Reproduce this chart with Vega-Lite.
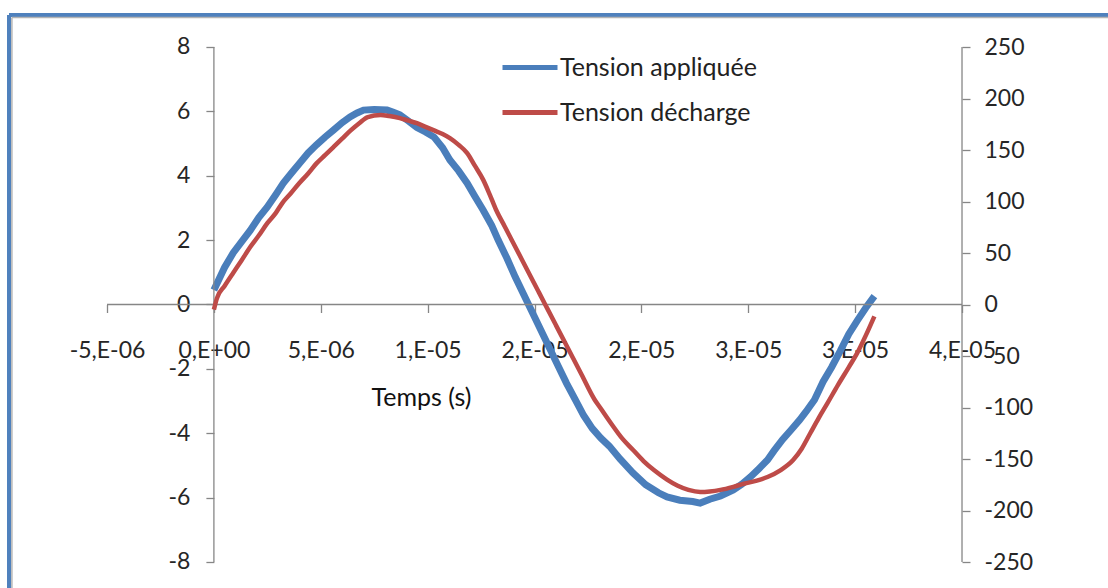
{
  "$schema": "https://vega.github.io/schema/vega-lite/v6.json",
  "width": 1099,
  "height": 573,
  "autosize": {"type": "none"},
  "padding": {"left": 9, "top": 15, "right": 0, "bottom": 0},
  "background": "white",
  "config": {
    "view": {"stroke": null},
    "font": "Lato",
    "axis": {"labelFont": "Lato", "titleFont": "Lato", "labelColor": "#262626", "tickColor": "#868686", "tickWidth": 1.3, "grid": false, "domain": false}
  },
  "datasets": {
    "applied": [
      {"t": 0.0e-6, "u": 0.45}, {"t": 0.5e-6, "u": 1.15}, {"t": 0.9e-6, "u": 1.6}, {"t": 1.3e-6, "u": 1.95},
      {"t": 1.7e-6, "u": 2.3}, {"t": 2.1e-6, "u": 2.7}, {"t": 2.5e-6, "u": 3.03}, {"t": 2.9e-6, "u": 3.42},
      {"t": 3.25e-6, "u": 3.77}, {"t": 3.65e-6, "u": 4.1}, {"t": 4.03e-6, "u": 4.4}, {"t": 4.4e-6, "u": 4.7},
      {"t": 4.8e-6, "u": 4.96}, {"t": 5.2e-6, "u": 5.2}, {"t": 5.6e-6, "u": 5.42}, {"t": 6.0e-6, "u": 5.65},
      {"t": 6.37e-6, "u": 5.83}, {"t": 6.7e-6, "u": 5.95}, {"t": 7.0e-6, "u": 6.04}, {"t": 7.5e-6, "u": 6.06},
      {"t": 8.1e-6, "u": 6.04}, {"t": 8.4e-6, "u": 5.97}, {"t": 8.7e-6, "u": 5.89}, {"t": 9.1e-6, "u": 5.7},
      {"t": 9.5e-6, "u": 5.5}, {"t": 9.9e-6, "u": 5.36}, {"t": 10.3e-6, "u": 5.2}, {"t": 10.7e-6, "u": 4.87},
      {"t": 11.04e-6, "u": 4.49}, {"t": 11.45e-6, "u": 4.15}, {"t": 11.85e-6, "u": 3.77}, {"t": 12.2e-6, "u": 3.37},
      {"t": 12.6e-6, "u": 2.93}, {"t": 13.0e-6, "u": 2.45}, {"t": 13.3e-6, "u": 2.0}, {"t": 13.7e-6, "u": 1.45},
      {"t": 14.1e-6, "u": 0.85}, {"t": 14.5e-6, "u": 0.3}, {"t": 14.9e-6, "u": -0.25}, {"t": 15.3e-6, "u": -0.8},
      {"t": 15.7e-6, "u": -1.35}, {"t": 16.1e-6, "u": -1.9}, {"t": 16.5e-6, "u": -2.45}, {"t": 16.9e-6, "u": -2.95},
      {"t": 17.3e-6, "u": -3.45}, {"t": 17.7e-6, "u": -3.85}, {"t": 18.1e-6, "u": -4.15}, {"t": 18.5e-6, "u": -4.4},
      {"t": 19.0e-6, "u": -4.8}, {"t": 19.6e-6, "u": -5.23}, {"t": 20.2e-6, "u": -5.6}, {"t": 20.8e-6, "u": -5.85},
      {"t": 21.2e-6, "u": -5.98}, {"t": 21.8e-6, "u": -6.08}, {"t": 22.4e-6, "u": -6.12}, {"t": 22.75e-6, "u": -6.17},
      {"t": 23.2e-6, "u": -6.05}, {"t": 23.7e-6, "u": -5.95}, {"t": 24.3e-6, "u": -5.76}, {"t": 24.7e-6, "u": -5.58},
      {"t": 25.1e-6, "u": -5.36}, {"t": 25.5e-6, "u": -5.1}, {"t": 25.9e-6, "u": -4.83}, {"t": 26.2e-6, "u": -4.55},
      {"t": 26.6e-6, "u": -4.2}, {"t": 27.0e-6, "u": -3.9}, {"t": 27.4e-6, "u": -3.59}, {"t": 27.7e-6, "u": -3.33},
      {"t": 28.1e-6, "u": -2.96}, {"t": 28.5e-6, "u": -2.4}, {"t": 28.9e-6, "u": -1.95}, {"t": 29.3e-6, "u": -1.45},
      {"t": 29.7e-6, "u": -0.92}, {"t": 30.1e-6, "u": -0.5}, {"t": 30.5e-6, "u": -0.1}, {"t": 30.9e-6, "u": 0.26}
    ],
    "discharge": [
      {"t": 0.0e-6, "u": -5}, {"t": 0.14e-6, "u": 6}, {"t": 0.5e-6, "u": 18}, {"t": 0.9e-6, "u": 30.6},
      {"t": 1.3e-6, "u": 43}, {"t": 1.7e-6, "u": 55.8}, {"t": 2.1e-6, "u": 67}, {"t": 2.5e-6, "u": 79},
      {"t": 2.9e-6, "u": 89}, {"t": 3.2e-6, "u": 98.5}, {"t": 3.6e-6, "u": 108}, {"t": 4.0e-6, "u": 118},
      {"t": 4.4e-6, "u": 127}, {"t": 4.8e-6, "u": 137}, {"t": 5.2e-6, "u": 145}, {"t": 5.6e-6, "u": 153},
      {"t": 6.0e-6, "u": 161}, {"t": 6.4e-6, "u": 169}, {"t": 6.8e-6, "u": 176}, {"t": 7.2e-6, "u": 182},
      {"t": 7.8e-6, "u": 184}, {"t": 8.2e-6, "u": 183}, {"t": 8.7e-6, "u": 181}, {"t": 9.1e-6, "u": 178.5},
      {"t": 9.5e-6, "u": 176}, {"t": 9.9e-6, "u": 172.5}, {"t": 10.3e-6, "u": 169}, {"t": 10.7e-6, "u": 165.5},
      {"t": 11.04e-6, "u": 161.5}, {"t": 11.45e-6, "u": 155}, {"t": 11.85e-6, "u": 147}, {"t": 12.2e-6, "u": 135},
      {"t": 12.6e-6, "u": 121}, {"t": 12.9e-6, "u": 107}, {"t": 13.2e-6, "u": 92}, {"t": 13.6e-6, "u": 76},
      {"t": 14.0e-6, "u": 60}, {"t": 14.4e-6, "u": 44}, {"t": 14.8e-6, "u": 28}, {"t": 15.2e-6, "u": 12},
      {"t": 15.6e-6, "u": -4}, {"t": 16.0e-6, "u": -20}, {"t": 16.4e-6, "u": -36}, {"t": 16.8e-6, "u": -52},
      {"t": 17.2e-6, "u": -68}, {"t": 17.8e-6, "u": -92}, {"t": 18.1e-6, "u": -101}, {"t": 18.6e-6, "u": -116},
      {"t": 19.1e-6, "u": -130}, {"t": 19.6e-6, "u": -141}, {"t": 20.1e-6, "u": -152}, {"t": 20.6e-6, "u": -161},
      {"t": 21.2e-6, "u": -170}, {"t": 21.7e-6, "u": -176}, {"t": 22.2e-6, "u": -180}, {"t": 22.75e-6, "u": -182},
      {"t": 23.2e-6, "u": -181.5}, {"t": 23.7e-6, "u": -180}, {"t": 24.3e-6, "u": -177}, {"t": 24.8e-6, "u": -174},
      {"t": 25.4e-6, "u": -171}, {"t": 25.9e-6, "u": -167.5}, {"t": 26.5e-6, "u": -161}, {"t": 27.1e-6, "u": -151},
      {"t": 27.5e-6, "u": -140}, {"t": 27.9e-6, "u": -125}, {"t": 28.3e-6, "u": -110}, {"t": 28.7e-6, "u": -96},
      {"t": 29.2e-6, "u": -78}, {"t": 29.7e-6, "u": -61}, {"t": 30.1e-6, "u": -47}, {"t": 30.5e-6, "u": -30},
      {"t": 30.9e-6, "u": -11.5}
    ]
  },
  "layer": [
    {
      "data": {"name": "applied"},
      "mark": {"type": "line", "strokeWidth": 7, "strokeJoin": "miter"},
      "encoding": {
        "x": {
          "field": "t", "type": "quantitative",
          "scale": {"domain": [-9.586e-6, 41.83e-6], "nice": false, "zero": false},
          "axis": {
            "orient": "bottom", "offset": -283.5,
            "values": [-5e-6, 0, 5e-6, 10e-6, 15e-6, 20e-6, 25e-6, 30e-6, 35e-6],
            "labelExpr": "['-5,E-06','0,E+00','5,E-06','1,E-05','2,E-05','2,E-05','3,E-05','3,E-05','4,E-05'][round(datum.value*1e6/5)+1]",
            "tickSize": 8, "labelPadding": 27, "labelFontSize": 23,
            "labelOverlap": false, "labelFlush": false, "labelBound": false,
            "title": "Temps (s)", "titleX": 412, "titleY": 92.5, "titleBaseline": "middle", "titleAlign": "center",
            "titleFontSize": 25, "titleFontWeight": "normal", "titleColor": "#111"
          }
        },
        "y": {
          "field": "u", "type": "quantitative",
          "scale": {"domain": [-8.808, 8.994], "nice": false, "zero": false},
          "axis": {
            "orient": "left", "offset": -204.9,
            "values": [-8, -6, -4, -2, 0, 2, 4, 6, 8],
            "labelExpr": "datum.value < 0 ? '-' + abs(datum.value) : '' + datum.value",
            "tickSize": 8, "labelPadding": 16, "labelFontSize": 23, "title": null, "labelOverlap": false, "labelFlush": false
          }
        },
        "color": {
          "datum": "Tension appliquée", "type": "nominal",
          "scale": {"domain": ["Tension appliquée", "Tension décharge"], "range": ["#4A7EBB", "#BE4B48"]},
          "legend": {
            "orient": "none", "legendX": 491, "legendY": 22.5, "title": null,
            "symbolType": "stroke", "symbolSize": 3025, "symbolStrokeWidth": 5,
            "labelFontSize": 25, "labelFont": "Lato", "labelColor": "#222", "labelOffset": 0, "labelLimit": 0,
            "rowPadding": 2, "padding": 0
          }
        }
      }
    },
    {
      "data": {"values": [{}]},
      "mark": {"type": "rule", "color": "#4F81BD", "strokeWidth": 4, "clip": false},
      "encoding": {
        "x": {"datum": -9.586e-6, "type": "quantitative", "scale": {"domain": [-9.586e-6, 41.83e-6], "nice": false, "zero": false}},
        "x2": {"datum": 41.83e-6},
        "y": {"datum": 8.994, "type": "quantitative", "scale": {"domain": [-8.808, 8.994], "nice": false, "zero": false}, "axis": null}
      }
    },
    {
      "data": {"values": [{}]},
      "mark": {"type": "rule", "color": "#4F81BD", "strokeWidth": 4, "clip": false},
      "encoding": {
        "x": {"datum": -9.586e-6, "type": "quantitative", "scale": {"domain": [-9.586e-6, 41.83e-6], "nice": false, "zero": false}},
        "y": {"datum": -8.808, "type": "quantitative", "scale": {"domain": [-8.808, 8.994], "nice": false, "zero": false}, "axis": null},
        "y2": {"datum": 8.994}
      }
    },
    {
      "data": {"values": [{}]},
      "mark": {"type": "rule", "color": "#B4B4B4", "strokeWidth": 1.5, "clip": false},
      "encoding": {
        "x": {"datum": -9.45e-6, "type": "quantitative", "scale": {"domain": [-9.586e-6, 41.83e-6], "nice": false, "zero": false}},
        "x2": {"datum": 41.83e-6},
        "y": {"datum": 8.915, "type": "quantitative", "scale": {"domain": [-8.808, 8.994], "nice": false, "zero": false}, "axis": null}
      }
    },
    {
      "data": {"values": [{}]},
      "mark": {"type": "rule", "color": "#B4B4B4", "strokeWidth": 1.5, "clip": false},
      "encoding": {
        "x": {"datum": -9.45e-6, "type": "quantitative", "scale": {"domain": [-9.586e-6, 41.83e-6], "nice": false, "zero": false}},
        "y": {"datum": -8.808, "type": "quantitative", "scale": {"domain": [-8.808, 8.994], "nice": false, "zero": false}, "axis": null},
        "y2": {"datum": 8.915}
      }
    },
    {
      "data": {"values": [{}]},
      "mark": {"type": "rule", "color": "#868686", "strokeWidth": 1.3},
      "encoding": {
        "x": {"datum": -5e-6, "type": "quantitative", "scale": {"domain": [-9.586e-6, 41.83e-6], "nice": false, "zero": false}},
        "x2": {"datum": 35e-6},
        "y": {"datum": 0, "type": "quantitative", "scale": {"domain": [-8.808, 8.994], "nice": false, "zero": false}, "axis": null}
      }
    },
    {
      "data": {"values": [{}]},
      "mark": {"type": "rule", "color": "#868686", "strokeWidth": 1.3},
      "encoding": {
        "x": {"datum": 0, "type": "quantitative", "scale": {"domain": [-9.586e-6, 41.83e-6], "nice": false, "zero": false}},
        "y": {"datum": -8, "type": "quantitative", "scale": {"domain": [-8.808, 8.994], "nice": false, "zero": false}, "axis": null},
        "y2": {"datum": 8}
      }
    },
    {
      "data": {"values": [{}]},
      "mark": {"type": "rule", "color": "#868686", "strokeWidth": 1.3},
      "encoding": {
        "x": {"datum": 35e-6, "type": "quantitative", "scale": {"domain": [-9.586e-6, 41.83e-6], "nice": false, "zero": false}},
        "y": {"datum": -8, "type": "quantitative", "scale": {"domain": [-8.808, 8.994], "nice": false, "zero": false}, "axis": null},
        "y2": {"datum": 8}
      }
    },
    {
      "data": {"name": "discharge"},
      "mark": {"type": "line", "strokeWidth": 4.5, "interpolate": "monotone"},
      "encoding": {
        "x": {"field": "t", "type": "quantitative", "scale": {"domain": [-9.586e-6, 41.83e-6], "nice": false, "zero": false}},
        "y": {
          "field": "u", "type": "quantitative",
          "scale": {"domain": [-275.24, 281.07], "nice": false, "zero": false},
          "axis": {
            "orient": "right", "offset": -146,
            "values": [-250, -200, -150, -100, -50, 0, 50, 100, 150, 200, 250],
            "labelExpr": "datum.value < 0 ? '-' + abs(datum.value) : '' + datum.value",
            "tickSize": 8, "labelPadding": 14, "labelFontSize": 23, "title": null, "labelOverlap": false, "labelFlush": false
          }
        },
        "color": {"datum": "Tension décharge", "type": "nominal"}
      }
    }
  ],
  "resolve": {"scale": {"y": "independent"}, "axis": {"y": "independent"}}
}
